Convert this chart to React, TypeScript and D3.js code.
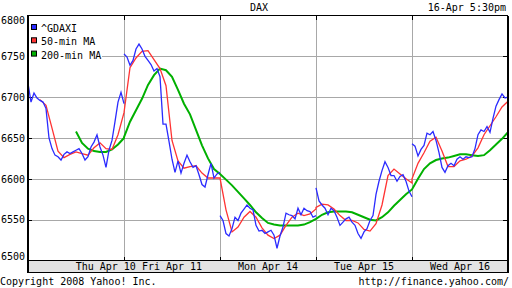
import React from 'react';
import * as d3 from 'd3';

const title = 'DAX';
const stamp = '16-Apr 5:30pm';
const copyright = 'Copyright 2008 Yahoo! Inc.';
const source = 'http://finance.yahoo.com/';

const dayLabels = ['Thu Apr 10', 'Fri Apr 11', 'Mon Apr 14', 'Tue Apr 15', 'Wed Apr 16'];
const dayLabelPos = [0.81, 1.5, 2.5, 3.5, 4.5];
const yTicks = [6500, 6550, 6600, 6650, 6700, 6750, 6800];

const legendNames = ['^GDAXI', '50-min MA', '200-min MA'];
const legendColors = ['#2b2bff', '#ff3333', '#00b000'];

// ^GDAXI price, one array per session, evenly spaced through the session
const priceThu = [6717, 6694, 6705, 6699, 6696, 6694, 6686, 6650, 6637, 6629, 6627, 6623, 6630, 6633, 6631, 6633, 6635, 6637, 6631, 6623, 6627, 6639, 6645, 6654, 6639, 6629, 6614, 6635, 6647, 6670, 6694, 6706, 6692];
const priceFri = [6753, 6749, 6739, 6745, 6759, 6765, 6759, 6750, 6745, 6740, 6732, 6735, 6725, 6667, 6667, 6646, 6624, 6608, 6622, 6607, 6619, 6629, 6621, 6614, 6616, 6605, 6593, 6590, 6605, 6619, 6601, 6606, 6608];
const priceMon = [6555, 6549, 6533, 6530, 6539, 6553, 6549, 6558, 6563, 6568, 6564, 6562, 6543, 6536, 6537, 6533, 6535, 6537, 6531, 6515, 6530, 6541, 6558, 6556, 6555, 6551, 6564, 6556, 6564, 6561, 6560, 6553, 6555];
const priceTue = [6589, 6573, 6568, 6564, 6556, 6564, 6561, 6553, 6543, 6547, 6551, 6553, 6547, 6543, 6533, 6527, 6535, 6539, 6549, 6555, 6581, 6597, 6610, 6621, 6614, 6604, 6604, 6597, 6603, 6605, 6597, 6585, 6578];
const priceWed = [6643, 6640, 6628, 6636, 6641, 6656, 6654, 6658, 6647, 6632, 6614, 6608, 6616, 6619, 6616, 6624, 6627, 6624, 6627, 6626, 6627, 6637, 6654, 6660, 6658, 6664, 6657, 6674, 6689, 6697, 6704, 6699, 6700];

// 50-min moving average
const ma50Thu = [null, null, 6697, 6690, 6662, 6634, 6626, 6630, 6633, 6631, 6629, 6638, 6644, 6637, 6636, 6654, 6681];
const ma50Fri = [6681, 6736, 6748, 6756, 6757, 6746, 6735, 6714, 6647, 6622, 6613, 6615, 6616, 6607, 6601, 6601, 6601];
const ma50Mon = [6601, 6562, 6535, 6541, 6553, 6560, 6553, 6540, 6531, 6527, 6531, 6543, 6553, 6558, 6555, 6557, 6563];
const ma50Tue = [6565, 6569, 6568, 6563, 6555, 6549, 6549, 6546, 6538, 6536, 6545, 6568, 6604, 6612, 6606, 6600, 6595];
const ma50Wed = [6600, 6619, 6632, 6646, 6651, 6634, 6615, 6615, 6622, 6624, 6628, 6638, 6654, 6665, 6676, 6688, 6695];

// 200-min moving average
const ma200Thu = [null, null, null, null, null, null, null, null, 6658, 6644, 6637, 6634, 6633, 6633, 6636, 6642, 6650];
const ma200Fri = [6651, 6670, 6684, 6698, 6715, 6727, 6735, 6733, 6725, 6709, 6692, 6679, 6660, 6641, 6625, 6612, 6606];
const ma200Mon = [6606, 6599, 6592, 6584, 6576, 6568, 6559, 6552, 6546, 6544, 6543, 6543, 6543, 6543, 6544, 6547, 6551];
const ma200Tue = [6551, 6556, 6559, 6560, 6560, 6560, 6559, 6556, 6553, 6550, 6549, 6553, 6559, 6567, 6574, 6581, 6587];
const ma200Wed = [6587, 6600, 6612, 6619, 6623, 6625, 6626, 6628, 6630, 6630, 6629, 6628, 6629, 6635, 6642, 6649, 6657];

const priceDays = [priceThu, priceFri, priceMon, priceTue, priceWed];
const ma50Days = [ma50Thu, ma50Fri, ma50Mon, ma50Tue, ma50Wed];
const ma200Days = [ma200Thu, ma200Fri, ma200Mon, ma200Tue, ma200Wed];

type Pt = [number, number | null];

function toPoints(day: number, arr: (number | null)[]): Pt[] {
  const n = arr.length;
  return arr.map((v, i) => [day + i / (n - 1), v] as Pt);
}

export default function App() {
  const W = 512, H = 288;
  const L = 28, R = 508, T = 15.5, B = 260.5;
  const x = d3.scaleLinear().domain([0, 5]).range([L, R]);
  const y = d3.scaleLinear().domain([6500, 6800]).range([B, T]);
  const line = d3.line<Pt>()
    .defined((p) => p[1] != null)
    .x((p) => x(p[0]))
    .y((p) => y(p[1] as number));

  const pricePaths = priceDays.map((arr, d) => line(toPoints(d, arr)) || '');
  const ma50Path = line(ma50Days.flatMap((arr, d) => toPoints(d, arr))) || '';
  const ma200Path = line(ma200Days.flatMap((arr, d) => toPoints(d, arr))) || '';

  const font = 'DejaVu Sans Mono, monospace';
  const dayBounds = [1, 2, 3, 4];
  const gridY = yTicks.filter((t) => t > 6500 && t < 6800);

  return (
    <svg width={W} height={H} style={{ position: 'absolute', left: 0, top: 0, background: '#fff' }}
      fontFamily={font} fontSize={10}>
      <rect x={0} y={0} width={W} height={H} fill="#fff" />
      {/* grid */}
      <g stroke="#a8a8a8" strokeWidth={1} shapeRendering="crispEdges">
        {gridY.map((t) => (
          <line key={t} x1={L} x2={R} y1={Math.round(y(t)) + 0.5} y2={Math.round(y(t)) + 0.5} />
        ))}
        {dayBounds.map((d) => (
          <line key={d} x1={Math.round(x(d)) + 0.5} x2={Math.round(x(d)) + 0.5} y1={T} y2={B} />
        ))}
      </g>
      {/* tick marks */}
      <g stroke="#000" strokeWidth={1} shapeRendering="crispEdges">
        {dayBounds.map((d) => (
          <g key={d}>
            <line x1={Math.round(x(d)) + 0.5} x2={Math.round(x(d)) + 0.5} y1={T} y2={T + 4} />
            <line x1={Math.round(x(d)) + 0.5} x2={Math.round(x(d)) + 0.5} y1={B - 4} y2={B} />
          </g>
        ))}
        {gridY.map((t) => (
          <g key={t}>
            <line x1={L} x2={L + 4} y1={Math.round(y(t)) + 0.5} y2={Math.round(y(t)) + 0.5} />
            <line x1={R - 5} x2={R} y1={Math.round(y(t)) + 0.5} y2={Math.round(y(t)) + 0.5} />
          </g>
        ))}
      </g>
      {/* series */}
      <path d={ma200Path} fill="none" stroke={legendColors[2]} strokeWidth={2} />
      <path d={ma50Path} fill="none" stroke={legendColors[1]} strokeWidth={1.3} />
      {pricePaths.map((p, i) => (
        <path key={i} d={p} fill="none" stroke={legendColors[0]} strokeWidth={1.3} strokeLinejoin="miter" />
      ))}
      {/* legend */}
      <rect x={L + 1} y={T + 1} width={73} height={44} fill="#fff" />
      {legendNames.map((n, i) => (
        <g key={n}>
          <rect x={31.5} y={24.5 + i * 13.3} width={5} height={5} fill={legendColors[i]} stroke="#000" strokeWidth={1} />
          <text x={41} y={32 + i * 13.3} fill="#000">{n}</text>
        </g>
      ))}
      {/* axis band */}
      <rect x={L} y={B} width={R - L} height={12} fill="#e3e3e3" />
      <g stroke="#000" fill="none" shapeRendering="crispEdges">
        <line x1={L - 1} x2={R} y1={T} y2={T} strokeWidth={1} />
        <line x1={L - 0.5} x2={L - 0.5} y1={T} y2={B + 12} strokeWidth={2} />
        <line x1={R - 0.5} x2={R - 0.5} y1={T} y2={B + 12} strokeWidth={2} />
        <line x1={L} x2={R} y1={B} y2={B} strokeWidth={1.5} />
        <line x1={L} x2={R} y1={B + 12} y2={B + 12} strokeWidth={1} />
      </g>
      {dayLabels.map((lab, i) => (
        <text key={lab} x={x(dayLabelPos[i])} y={269.5} textAnchor="middle" fill="#000">{lab}</text>
      ))}
      {/* y labels */}
      {yTicks.map((t) => (
        <text key={t} x={25} y={Math.min(259.6, Math.max(24.3, y(t) + 3.7))} textAnchor="end" fill="#000">{t}</text>
      ))}
      {/* titles */}
      <text x={259} y={11.3} textAnchor="middle" fill="#000">{title}</text>
      <text x={506} y={11.3} textAnchor="end" fill="#000">{stamp}</text>
      <text x={0} y={284.5} fill="#000">{copyright}</text>
      <text x={509} y={285} textAnchor="end" fill="#000">{source}</text>
    </svg>
  );
}
